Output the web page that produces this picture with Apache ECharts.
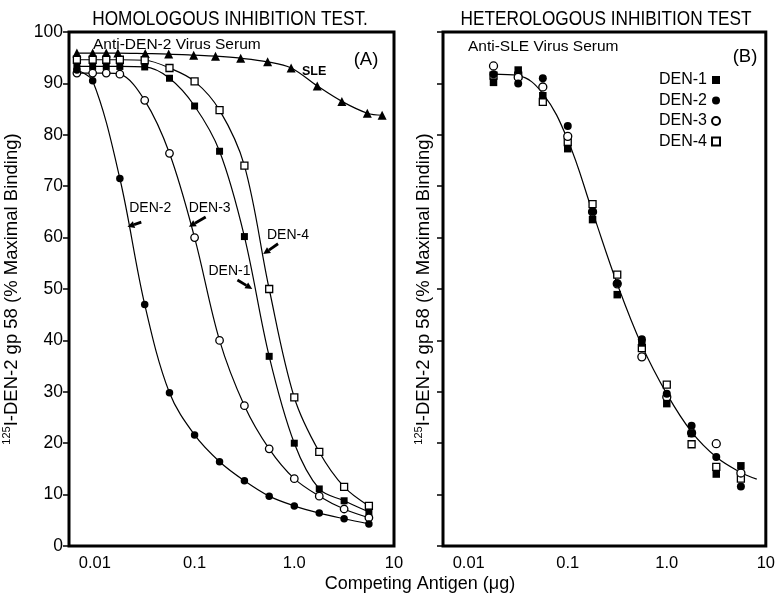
<!DOCTYPE html>
<html><head><meta charset="utf-8">
<script src="https://cdn.jsdelivr.net/npm/echarts@6/dist/echarts.min.js"></script>
<style>html,body{margin:0;padding:0;background:#fff}#c{width:778px;height:595px}</style>
</head><body><div id="c"></div>
<script>
// ---------- Panel A : homologous inhibition (anti-DEN-2 serum) ----------
const xA    = [0.0066, 0.0095, 0.013, 0.0178, 0.0316, 0.056, 0.1, 0.178, 0.316, 0.56, 1.0, 1.78, 3.16, 5.6];
const xA2   = [0.0066, 0.0095, 0.0178, 0.0316, 0.056, 0.1, 0.178, 0.316, 0.56, 1.0, 1.78, 3.16, 5.6];
const xSLE  = [0.0066, 0.0095, 0.013, 0.017, 0.032, 0.055, 0.098, 0.162, 0.29, 0.54, 0.93, 1.7, 3.0, 5.4, 7.6];
const ySLE  = [95.9, 95.9, 95.9, 95.9, 95.8, 95.7, 95.5, 95.3, 94.9, 94.2, 93.0, 89.5, 86.5, 84.2, 83.8];
const yA1   = [93.3, 93.3, 93.3, 93.3, 93.2, 91.0, 85.6, 76.8, 60.2, 36.9, 20.0, 11.1, 8.8, 6.6];
const yA2   = [92.6, 90.5, 71.5, 47.0, 29.8, 21.6, 16.4, 12.7, 9.7, 7.8, 6.4, 5.3, 4.3];
const yA3   = [92.0, 92.0, 92.0, 91.8, 86.7, 76.4, 60.0, 40.0, 27.3, 18.9, 13.1, 9.7, 7.2, 5.5];
const yA4   = [94.6, 94.6, 94.6, 94.6, 94.5, 93.0, 90.4, 84.8, 74.0, 50.0, 28.9, 18.3, 11.5, 7.8];

// ---------- Panel B : heterologous inhibition (anti-SLE serum) ----------
const xB    = [0.0178, 0.0316, 0.056, 0.1, 0.178, 0.316, 0.56, 1.0, 1.78, 3.16, 5.6];
const yB1   = [90.2, 92.6, 87.6, 77.3, 63.5, 48.9, 39.5, 27.7, 21.9, 14.0, 15.6];
const yB2   = [91.8, 90.0, 91.0, 81.7, 65.1, 51.1, 40.2, 29.6, 23.4, 17.3, 11.6];
const yB3   = [93.4, 91.2, 89.3, 79.7, 65.0, 51.0, 36.8, 29.0, 22.0, 19.9, 14.2];
const yB4   = [91.5, 91.5, 86.4, 78.6, 66.5, 52.8, 38.5, 31.4, 19.8, 15.4, 13.1];
const xFit  = [0.0178, 0.0316, 0.056, 0.1, 0.178, 0.316, 0.56, 1.0, 1.78, 3.16, 5.6, 8.1];
const yFit  = [91.8, 91.5, 88.0, 79.0, 65.0, 51.0, 39.0, 29.6, 22.2, 17.3, 14.3, 13.0];

const seriesNames = ['DEN-1', 'DEN-2', 'DEN-3', 'DEN-4'];
const xTickLabels = {'-2': '0.01', '-1': '0.1', '0': '1.0', '1': '10'};
const yAxisTitle = '{s|125}{n|I-DEN-2 gp 58 (% Maximal Binding)}';

// annotation anchors (data units of panel A)
const annotA = [
  {label: 'DEN-2', at: [0.0359, 65.8], tail: [0.0292, 63.0], head: [0.0212, 62.1]},
  {label: 'DEN-3', at: [0.1416, 65.8], tail: [0.1293, 64.0], head: [0.0877, 62.1]},
  {label: 'DEN-4', at: [0.865, 60.5],  tail: [0.687, 58.8],  head: [0.4876, 56.8]},
  {label: 'DEN-1', at: [0.224, 53.5],  tail: [0.269, 51.75], head: [0.379, 50.0]}
];
const sleLabel = {label: 'SLE', at: [1.58, 92.3]};

const FONT = '"Liberation Sans", Arial, sans-serif';
const zip = (xs, ys) => xs.map((x, i) => [x, ys[i]]);

const chart = echarts.init(document.getElementById('c'));

function xAxisCfg(gi) {
  return {
    type: 'log', logBase: 10, gridIndex: gi, min: 0.0055, max: 10,
    axisLine: {show: false}, axisTick: {show: false}, splitLine: {show: false},
    axisLabel: {
      color: '#000', fontSize: 16.5, fontFamily: FONT, margin: 9,
      showMinLabel: false,
      formatter: v => {
        const l = Math.log10(v), r = Math.round(l);
        if (Math.abs(l - r) > 1e-6) return '';
        return xTickLabels[String(r)] || '';
      }
    }
  };
}
function yAxisCfg(gi, labels, gap) {
  return {
    type: 'value', gridIndex: gi, min: 0, max: 100, interval: 10,
    axisLine: {show: false}, splitLine: {show: false},
    axisTick: {show: true, inside: false, length: 6, lineStyle: {color: '#000', width: 1.5}},
    axisLabel: {show: labels, color: '#000', fontSize: 17.5, fontFamily: FONT, margin: 6},
    name: yAxisTitle, nameLocation: 'middle', nameGap: gap, nameRotate: 90,
    nameTextStyle: {
      color: '#000', fontFamily: FONT,
      rich: {
        s: {fontSize: 11, fontFamily: FONT, color: '#000', verticalAlign: 'top', lineHeight: 21},
        n: {fontSize: 18.5, fontFamily: FONT, color: '#000', lineHeight: 21}
      }
    }
  };
}
const filled = {color: '#000', opacity: 1};
const open = {color: '#fff', borderColor: '#000', borderWidth: 1.3, opacity: 1};
const lineSt = {color: '#000', width: 1.2};

function lineSeries(name, data, symbol, size, style, z) {
  return {
    name, type: 'line', xAxisIndex: 0, yAxisIndex: 0, data, symbol, symbolSize: size,
    smooth: 0.35, itemStyle: style, lineStyle: lineSt, showAllSymbol: true, z: z || 2,
    emphasis: {disabled: true}
  };
}
function scatterSeries(name, data, symbol, size, style, z) {
  return {
    name, type: 'scatter', xAxisIndex: 1, yAxisIndex: 1, data, symbol, symbolSize: size,
    itemStyle: style, z: z || 3, emphasis: {disabled: true}
  };
}

const option = {
  animation: false,
  backgroundColor: '#fff',
  grid: [
    {left: 67, top: 32, width: 327, height: 514, show: true, borderColor: '#000', borderWidth: 3},
    {left: 443, top: 32, width: 327, height: 514, show: true, borderColor: '#000', borderWidth: 3}
  ],
  xAxis: [xAxisCfg(0), xAxisCfg(1)],
  yAxis: [yAxisCfg(0, true, 47), yAxisCfg(1, false, 9)],
  legend: {
    data: seriesNames, orient: 'vertical', align: 'right', left: 659, top: 72,
    itemWidth: 8, itemHeight: 8, itemGap: 4.5, padding: 0, selectedMode: false,
    textStyle: {color: '#000', fontSize: 16, fontFamily: FONT, lineHeight: 16}
  },
  series: [
    lineSeries('SLE (A)', zip(xSLE, ySLE), 'triangle', 9, filled, 2),
    lineSeries('DEN-4 (A)', zip(xA, yA4), 'rect', 7, open, 3),
    lineSeries('DEN-1 (A)', zip(xA, yA1), 'rect', 7, filled, 4),
    lineSeries('DEN-3 (A)', zip(xA, yA3), 'circle', 7.5, open, 5),
    lineSeries('DEN-2 (A)', zip(xA2, yA2), 'circle', 7.5, filled, 6),
    {name: 'fit', type: 'line', xAxisIndex: 1, yAxisIndex: 1, data: zip(xFit, yFit),
     showSymbol: false, smooth: 0.4, lineStyle: lineSt, z: 1, emphasis: {disabled: true}},
    scatterSeries('DEN-4', zip(xB, yB4), 'rect', 7, open, 3),
    scatterSeries('DEN-3', zip(xB, yB3), 'circle', 8, open, 4),
    scatterSeries('DEN-1', zip(xB, yB1), 'rect', 7.5, filled, 5),
    scatterSeries('DEN-2', zip(xB, yB2), 'circle', 8, filled, 6)
  ]
};
chart.setOption(option);

// ---------- texts and arrows ----------
function txt(x, y, text, size, opts) {
  opts = opts || {};
  return {
    type: 'text', x, y, scaleX: opts.sx || 1, scaleY: 1, z: 100,
    style: {
      text, x: 0, y: 0, fill: '#000', fontSize: size, fontFamily: FONT,
      fontWeight: opts.bold ? 'bold' : 'normal',
      textAlign: opts.align || 'center', textVerticalAlign: 'middle'
    }
  };
}
const els = [];
els.push(txt(230, 19, 'HOMOLOGOUS INHIBITION TEST.', 21, {sx: 0.82}));
els.push(txt(606, 19, 'HETEROLOGOUS INHIBITION TEST', 21, {sx: 0.82}));
els.push(txt(420, 584, 'Competing Antigen (\u03bcg)', 18));
els.push(txt(93, 45, 'Anti-DEN-2 Virus Serum', 15.5, {align: 'left'}));
els.push(txt(468, 47, 'Anti-SLE Virus Serum', 15.5, {align: 'left'}));
els.push(txt(366, 60, '(A)', 18.5));
els.push(txt(745, 57, '(B)', 18.5));

const sp = chart.convertToPixel({gridIndex: 0}, sleLabel.at);
els.push(txt(sp[0], sp[1], sleLabel.label, 12.5, {bold: true}));

annotA.forEach(a => {
  const p = chart.convertToPixel({gridIndex: 0}, a.at);
  els.push(txt(p[0], p[1], a.label, 14));
  const t = chart.convertToPixel({gridIndex: 0}, a.tail);
  const h = chart.convertToPixel({gridIndex: 0}, a.head);
  const dx = h[0] - t[0], dy = h[1] - t[1], L = Math.hypot(dx, dy);
  const ux = dx / L, uy = dy / L, hl = 7, hw = 3.5;
  const bx = h[0] - ux * hl, by = h[1] - uy * hl;
  els.push({type: 'line', z: 100, shape: {x1: t[0], y1: t[1], x2: bx, y2: by},
            style: {stroke: '#000', lineWidth: 2.8}});
  els.push({type: 'polygon', z: 100,
            shape: {points: [[h[0], h[1]], [bx - uy * hw, by + ux * hw], [bx + uy * hw, by - ux * hw]]},
            style: {fill: '#000'}});
});
chart.setOption({graphic: {elements: els}});
</script>
</body></html>
